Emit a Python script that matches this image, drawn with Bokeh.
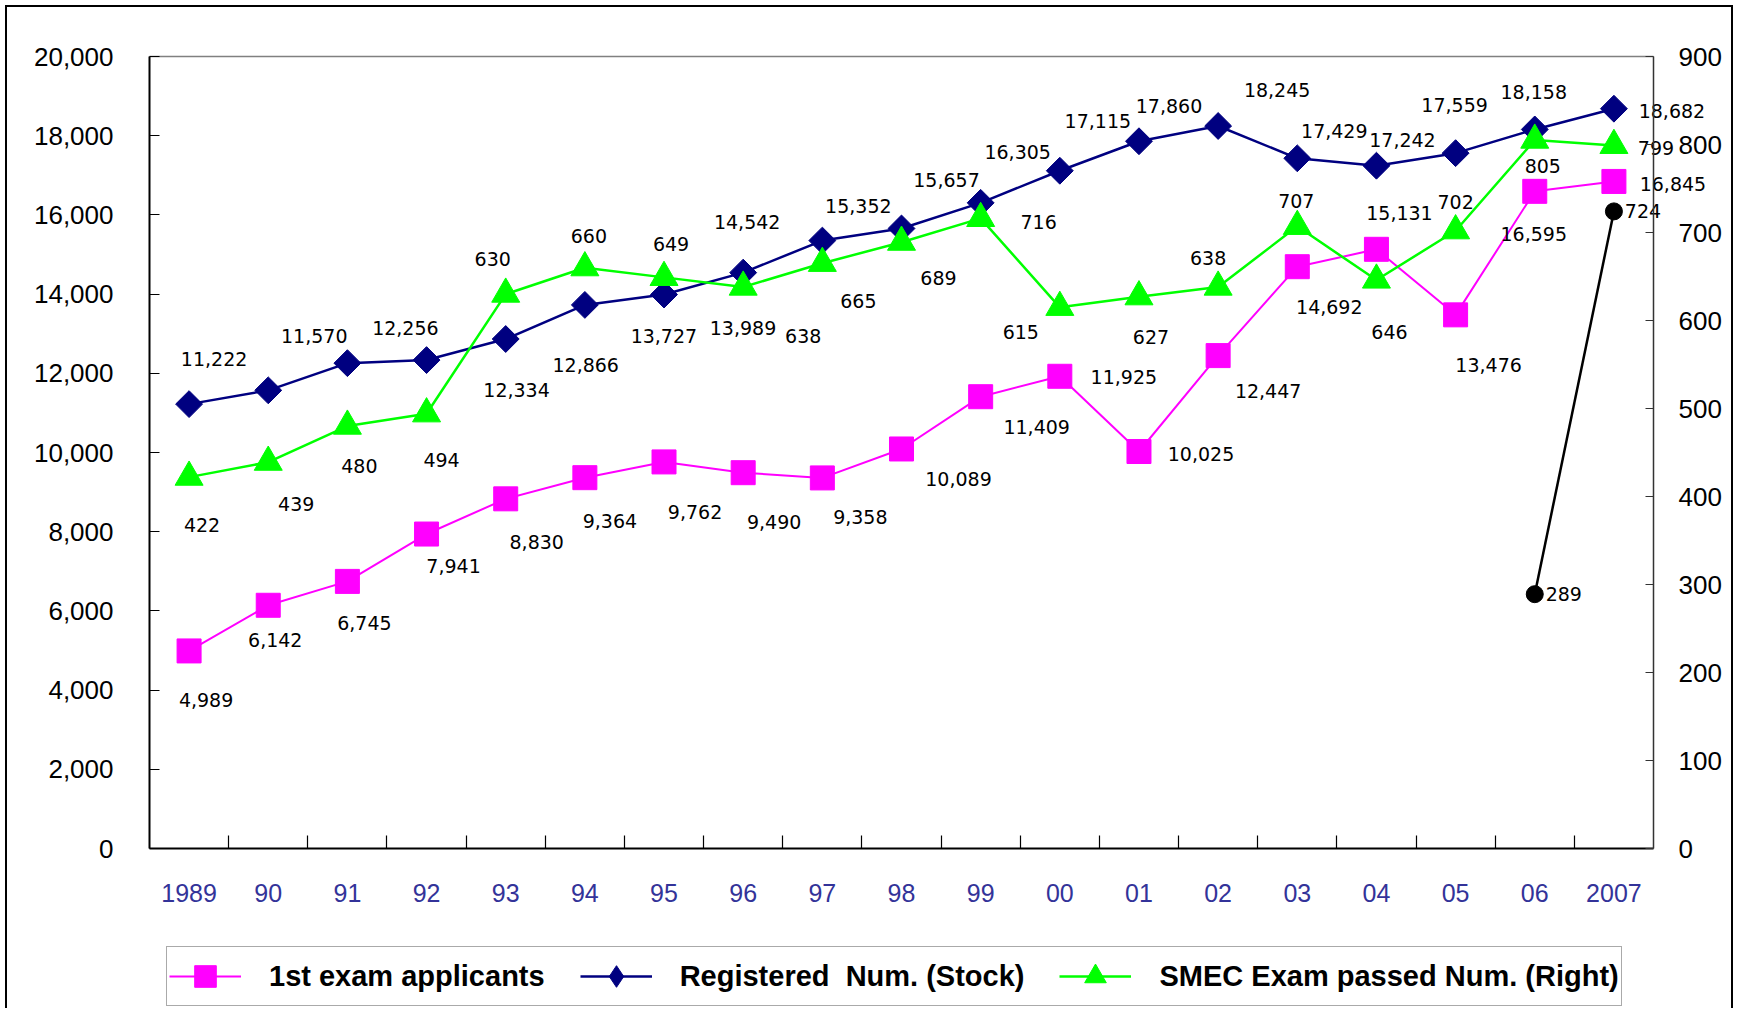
import numpy as np
from bokeh.plotting import figure
from bokeh.models import (Range1d, LinearAxis, FixedTicker, NumeralTickFormatter,
                          ColumnDataSource, Legend, LegendItem)
from bokeh.core.properties import value
from bokeh.embed import file_html
from bokeh.resources import INLINE

# ---------------- data ----------------
years = ["1989", "90", "91", "92", "93", "94", "95", "96", "97", "98", "99",
         "00", "01", "02", "03", "04", "05", "06", "2007"]
applicants = [4989, 6142, 6745, 7941, 8830, 9364, 9762, 9490, 9358, 10089, 11409,
              11925, 10025, 12447, 14692, 15131, 13476, 16595, 16845]
registered = [11222, 11570, 12256, 12334, 12866, 13727, 13989, 14542, 15352, 15657, 16305,
              17115, 17860, 18245, 17429, 17242, 17559, 18158, 18682]
smec_passed = [422, 439, 480, 494, 630, 660, 649, 638, 665, 689, 716,
               615, 627, 638, 707, 646, 702, 805, 799]
black_years_idx = [17, 18]
black_vals = [289, 724]
left_ticks = [0, 2000, 4000, 6000, 8000, 10000, 12000, 14000, 16000, 18000, 20000]
right_ticks = [0, 100, 200, 300, 400, 500, 600, 700, 800, 900]
LEFT_MAX = 20000
RIGHT_MAX = 900
legend_labels = ["1st exam applicants", "Registered  Num. (Stock)", "SMEC Exam passed Num. (Right)"]

# ---------------- label placement (pixel offsets, +x right, +y down) ----------------
off_reg = [(25, -45), (46, -54), (58, -35), (90, 30), (80, 26), (79, 31), (79, 33), (4, -51),
           (36, -35), (45, -48), (37, -51), (38, -50), (30, -35), (59, -36), (37, -27),
           (26, -26), (-1, -48), (-1, -37), (58, 2)]
off_app = [(17, 49), (7, 35), (17, 42), (27, 32), (31, 43), (25, 43), (31, 50), (31, 49),
           (38, 39), (57, 30), (56, 30), (64, 1), (62, 2), (50, 35), (32, 40), (23, -36),
           (33, 50), (-1, 43), (59, 3)]
off_smec = [(13, 48), (28, 42), (12, 40), (15, 46), (-13, -35), (4, -32), (7, -33), (60, 49),
            (36, 38), (37, 36), (58, 4), (-39, 25), (12, 40), (-10, -29), (-1, -25), (13, 52),
            (0, -29), (8, 26), (42, 3)]
off_black = [(29, 0), (29, 0)]

# ---------------- layout (pixels) ----------------
W, H = 1733, 1008
PL, PR, PT, PB = 149, 1653, 56, 848       # plot box edges inside the canvas

n = len(years)
xs = [i + 0.5 for i in range(n)]

# the frame covers the whole canvas; ranges are extended so the plot box lands at PL..PR, PT..PB
kx = (PR - PL) / n
ky = (PB - PT) / LEFT_MAX
kr = (PB - PT) / RIGHT_MAX
x_rng = Range1d(-PL / kx, (W - PL) / kx)
y_rng = Range1d(-(H - PB) / ky, LEFT_MAX + PT / ky)
r_rng = Range1d(-(H - PB) / kr, RIGHT_MAX + PT / kr)

PINK = "#FF00FF"
NAVY = "#000080"
GREEN = "#00FF00"

p = figure(width=W, height=H, output_backend="svg", toolbar_location=None,
           x_range=x_rng, y_range=y_rng,
           min_border=0, min_border_left=0, min_border_right=0,
           min_border_top=0, min_border_bottom=0,
           x_axis_type=None, y_axis_type=None,
           styles={"box-shadow": "inset 5px 5px 0 0 #ffffff, inset 7px 7px 0 0 #000000, "
                                 "inset -2px 0 0 0 #000000",
                   "background-color": "#ffffff"})
p.extra_y_ranges = {"right": r_rng}
p.grid.visible = False
p.outline_line_color = None
p.background_fill_color = None
p.border_fill_color = None

# x axis
xaxis = LinearAxis(ticker=FixedTicker(ticks=xs, minor_ticks=list(range(1, n))),
                   fixed_location=0, bounds=(0, n))
xaxis.major_label_overrides = {x: lab for x, lab in zip(xs, years)}
xaxis.major_tick_line_color = None
xaxis.major_tick_in = 0
xaxis.major_tick_out = 0
xaxis.minor_tick_in = 13
xaxis.minor_tick_out = 0
xaxis.minor_tick_line_color = "#000000"
xaxis.minor_tick_line_width = 1.2
xaxis.axis_line_width = 2
xaxis.axis_line_color = "#000000"
xaxis.major_label_standoff = 35
xaxis.major_label_text_font = "Liberation Sans"
xaxis.major_label_text_font_size = "25px"
xaxis.major_label_text_color = "#333399"
p.add_layout(xaxis, "below")

# top border of the plot box
top_axis = LinearAxis(ticker=FixedTicker(ticks=[]), fixed_location=LEFT_MAX, bounds=(0, n))
top_axis.axis_line_color = "#808080"
top_axis.axis_line_width = 1.5
top_axis.major_tick_line_color = None
top_axis.minor_tick_line_color = None
p.add_layout(top_axis, "above")

# left axis
yl = LinearAxis(ticker=FixedTicker(ticks=left_ticks), formatter=NumeralTickFormatter(format="0,0"),
                fixed_location=0, bounds=(0, LEFT_MAX))
yl.major_tick_in = 10
yl.major_tick_out = 0
yl.minor_tick_line_color = None
yl.axis_line_width = 2
yl.axis_line_color = "#000000"
yl.major_label_standoff = 36
yl.major_label_text_font = "Liberation Sans"
yl.major_label_text_font_size = "26px"
yl.major_label_text_color = "#000000"
p.add_layout(yl, "left")

# right axis
yr = LinearAxis(y_range_name="right", ticker=FixedTicker(ticks=right_ticks),
                fixed_location=n, bounds=(0, RIGHT_MAX))
yr.major_tick_in = 8
yr.major_tick_out = 0
yr.minor_tick_line_color = None
yr.axis_line_width = 1.5
yr.axis_line_color = "#333333"
yr.major_tick_line_color = "#333333"
yr.major_label_standoff = 25
yr.major_label_text_font = "Liberation Sans"
yr.major_label_text_font_size = "26px"
yr.major_label_text_color = "#000000"
p.add_layout(yr, "right")


def fmt(v):
    return "{:,}".format(v)


def make_src(xv, yv, offs):
    return ColumnDataSource(dict(x=xv, y=yv, t=[fmt(v) for v in yv],
                                 dx=[o[0] for o in offs], dy=[o[1] for o in offs]))


src_app = make_src(xs, applicants, off_app)
src_reg = make_src(xs, registered, off_reg)
src_smec = make_src(xs, smec_passed, off_smec)
src_black = make_src([xs[i] for i in black_years_idx], black_vals, off_black)

l_app = p.line("x", "y", source=src_app, line_color=PINK, line_width=2)
m_app = p.scatter("x", "y", source=src_app, marker="square", size=24,
                  fill_color=PINK, line_color=PINK)
l_reg = p.line("x", "y", source=src_reg, line_color=NAVY, line_width=2.5)
m_reg = p.scatter("x", "y", source=src_reg, marker="square", size=19, angle=np.pi / 4,
                  fill_color=NAVY, line_color=NAVY)
l_sm = p.line("x", "y", source=src_smec, line_color=GREEN, line_width=2.5, y_range_name="right")
m_sm = p.scatter("x", "y", source=src_smec, marker="triangle", size=28,
                 fill_color=GREEN, line_color=GREEN, y_range_name="right")
l_bk = p.line("x", "y", source=src_black, line_color="#000000", line_width=2.5, y_range_name="right")
m_bk = p.scatter("x", "y", source=src_black, marker="circle", size=17,
                 fill_color="#000000", line_color="#000000", y_range_name="right")

# legend-only swatch (diamond) kept outside the visible range
swatch_reg = p.scatter(x=[x_rng.start - 10], y=[0], marker="diamond", size=20,
                       fill_color=NAVY, line_color=NAVY)

lab_kw = dict(text="t", x_offset="dx", y_offset="dy",
              text_align="center", text_baseline="middle", text_font=value("DejaVu Sans"),
              text_font_size="19px", text_color="#000000")
p.text("x", "y", source=src_app, **lab_kw)
p.text("x", "y", source=src_reg, **lab_kw)
p.text("x", "y", source=src_smec, y_range_name="right", **lab_kw)
p.text("x", "y", source=src_black, y_range_name="right", **lab_kw)

legend = Legend(items=[LegendItem(label=legend_labels[0], renderers=[l_app, m_app]),
                       LegendItem(label=legend_labels[1], renderers=[l_reg, swatch_reg]),
                       LegendItem(label=legend_labels[2], renderers=[l_sm, m_sm])],
                orientation="horizontal", location=(166, 2))
legend.glyph_width = 72
legend.glyph_height = 54
legend.label_standoff = 28
legend.spacing = 35
legend.padding = 2
legend.margin = 0
legend.label_text_font = "Liberation Sans"
legend.label_text_font_style = "bold"
legend.label_text_font_size = "29px"
legend.label_text_color = "#000000"
legend.border_line_color = "#555555"
legend.border_line_width = 1.5
legend.background_fill_color = "white"
legend.background_fill_alpha = 1.0
p.add_layout(legend, "center")

open("out.html", "w").write(file_html(p, INLINE))
